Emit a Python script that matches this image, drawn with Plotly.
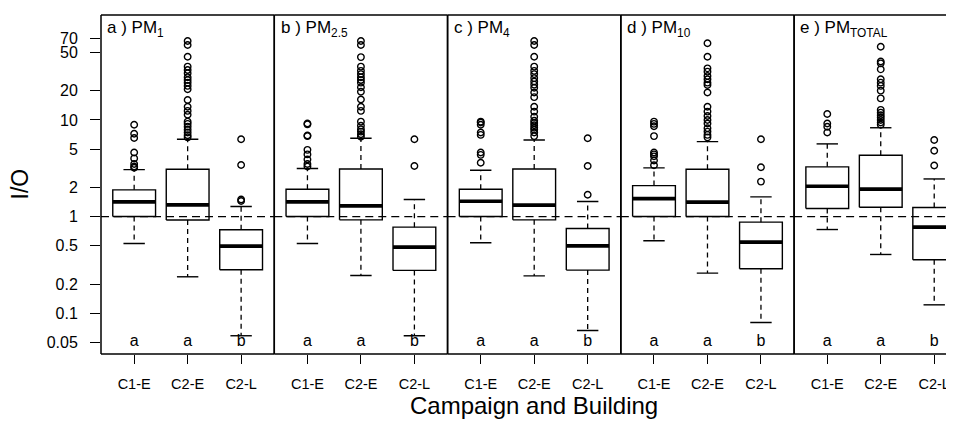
import plotly.graph_objects as go
from plotly.subplots import make_subplots

# ---------------- data ----------------
groups = ["C1-E", "C2-E", "C2-L"]
panel_titles = ["a ) PM<sub>1</sub>", "b ) PM<sub>2.5</sub>", "c ) PM<sub>4</sub>",
                "d ) PM<sub>10</sub>", "e ) PM<sub>TOTAL</sub>"]
letters = ["a", "a", "b"]

y_tick_vals = [0.05, 0.1, 0.2, 0.5, 1, 2, 5, 10, 20, 50, 70]
y_tick_text = ["0.05", "0.1", "0.2", "0.5", "1", "2", "5", "10", "20", "50", "70"]

# per panel: [C1-E, C2-E, C2-L]
lower_whisker = [
    [0.526, 0.238, 0.0584],
    [0.526, 0.245, 0.0584],
    [0.535, 0.243, 0.0662],
    [0.561, 0.260, 0.080],
    [0.734, 0.405, 0.122],
]
q1 = [
    [1.00, 0.92, 0.281],
    [1.00, 0.925, 0.277],
    [1.00, 0.925, 0.279],
    [1.00, 1.00, 0.288],
    [1.21, 1.25, 0.357],
]
median = [
    [1.42, 1.32, 0.494],
    [1.42, 1.29, 0.483],
    [1.44, 1.31, 0.498],
    [1.53, 1.41, 0.543],
    [2.06, 1.92, 0.777],
]
q3 = [
    [1.89, 3.09, 0.73],
    [1.92, 3.11, 0.777],
    [1.92, 3.11, 0.751],
    [2.09, 3.09, 0.875],
    [3.27, 4.31, 1.24],
]
upper_whisker = [
    [3.06, 6.3, 1.27],
    [3.14, 6.46, 1.50],
    [3.02, 6.2, 1.43],
    [3.19, 5.97, 1.6],
    [5.65, 8.3, 2.45],
]
outliers = [
    [[3.2, 3.3, 3.5, 4.0, 4.6, 6.5, 7.2, 8.9],
     [6.6, 6.95, 7.4, 7.9, 8.5, 9.1, 9.6, 11.3, 12.4, 13.7, 16.1, 20.8, 22.5, 24.3,
      25.9, 27.7, 30.4, 32.9, 35.6, 45.1, 59.7, 65.6],
     [1.45, 1.5, 3.42, 6.3]],
    [[3.3, 3.5, 3.9, 4.4, 4.9, 6.8, 6.9, 9.0, 9.2],
     [6.7, 7.1, 7.57, 8.0, 8.7, 9.6, 12.4, 13.7, 16.3, 19.6, 21.8, 24.3, 25.9, 27.7,
      29.8, 32.2, 35.6, 44.7, 59.7, 65.6],
     [3.34, 6.3]],
    [[3.6, 4.35, 4.6, 7.0, 7.4, 8.9, 9.4, 9.6],
     [6.8, 7.4, 7.9, 8.3, 8.8, 9.3, 9.8, 10.8, 12.2, 13.7, 17.2, 19.2, 21.5, 23.2,
      25.0, 27.1, 29.8, 32.2, 35.6, 45.1, 59.7, 65.6],
     [1.68, 3.34, 6.46]],
    [[3.4, 3.8, 4.2, 4.4, 4.6, 6.8, 8.6, 9.1, 9.6],
     [6.6, 7.0, 7.57, 8.2, 9.2, 10.0, 11.0, 12.2, 13.7, 19.2, 23.0, 24.3, 26.4, 28.5,
      31.6, 34.2, 45.1, 62.2],
     [2.3, 3.24, 6.3]],
    [[7.4, 8.5, 9.2, 11.5],
     [8.9, 9.4, 10.0, 10.6, 11.2, 11.9, 12.7, 16.7, 20.1, 22.5, 24.3, 26.4, 33.4,
      38.5, 40.2, 57.3],
     [3.37, 4.8, 6.2]],
]
reference_level = 1.0
letter_level = 0.05

# ---------------- style ----------------
FONT = "Liberation Sans, Arial, sans-serif"
BOXW = 0.4      # half box width (boxwex 0.8)
CAPW = 0.2      # half staple width
x_ranges = [[0.38, 3.62]] * 4 + [[0.38, 3.37]]
col_w = [173.3, 173.3, 173.3, 173.3, 159.9]

# page body has an 8px default margin: size the figure so it fills the window
PAGE_OFF = 8
L, T, B = 101 - PAGE_OFF, 15 - PAGE_OFF, 67
FIG_W, FIG_H = 954 - PAGE_OFF, 421 - PAGE_OFF
PLOT_W = FIG_W - L
PLOT_H = FIG_H - T - B

fig = make_subplots(rows=1, cols=5, shared_yaxes=True, horizontal_spacing=0,
                    column_widths=col_w)

for p in range(5):
    col = p + 1
    bx, by, mx, my, wx, wy, cx, cy, ox, oy = [], [], [], [], [], [], [], [], [], []
    for g in range(3):
        c = g + 1
        bx += [c - BOXW, c + BOXW, c + BOXW, c - BOXW, c - BOXW, None]
        by += [q1[p][g], q1[p][g], q3[p][g], q3[p][g], q1[p][g], None]
        mx += [c - BOXW, c + BOXW, None]
        my += [median[p][g], median[p][g], None]
        wx += [c, c, None, c, c, None]
        wy += [q3[p][g], upper_whisker[p][g], None, q1[p][g], lower_whisker[p][g], None]
        cx += [c - CAPW, c + CAPW, None, c - CAPW, c + CAPW, None]
        cy += [upper_whisker[p][g], upper_whisker[p][g], None,
               lower_whisker[p][g], lower_whisker[p][g], None]
        ox += [c] * len(outliers[p][g])
        oy += outliers[p][g]
    fig.add_trace(go.Scatter(x=x_ranges[p], y=[reference_level, reference_level],
                             mode="lines", line=dict(color="black", width=1.3, dash="8px,5px"),
                             showlegend=False, hoverinfo="skip"), row=1, col=col)
    fig.add_trace(go.Scatter(x=wx, y=wy, mode="lines",
                             line=dict(color="black", width=1.3, dash="5px,4px"),
                             showlegend=False, hoverinfo="skip"), row=1, col=col)
    fig.add_trace(go.Scatter(x=cx, y=cy, mode="lines",
                             line=dict(color="black", width=1.4),
                             showlegend=False, hoverinfo="skip"), row=1, col=col)
    fig.add_trace(go.Scatter(x=bx, y=by, mode="lines",
                             line=dict(color="black", width=1.4),
                             showlegend=False, hoverinfo="skip"), row=1, col=col)
    fig.add_trace(go.Scatter(x=mx, y=my, mode="lines",
                             line=dict(color="black", width=3.7),
                             showlegend=False, hoverinfo="skip"), row=1, col=col)
    fig.add_trace(go.Scatter(x=ox, y=oy, mode="markers",
                             marker=dict(symbol="circle-open", size=6.5, color="black",
                                         line=dict(width=1.4, color="black")),
                             showlegend=False, hoverinfo="skip"), row=1, col=col)
    fig.add_trace(go.Scatter(x=[1, 2, 3], y=[letter_level] * 3, mode="text",
                             text=letters, textposition="middle center",
                             textfont=dict(family=FONT, size=16, color="black"),
                             showlegend=False, hoverinfo="skip"), row=1, col=col)

    xname = "x" if p == 0 else f"x{col}"
    frame_lines = [((0, 0), (0, 1)), ((0, 1), (1, 1)), ((0, 0), (1, 0))]
    if p < 4:
        frame_lines.append(((1, 0), (1, 1)))
    for (x0, y0), (x1, y1) in frame_lines:
        fig.add_shape(type="line", xref=f"{xname} domain", yref="paper",
                      x0=x0, y0=y0, x1=x1, y1=y1,
                      line=dict(color="black", width=1.5), layer="above")
    fig.add_annotation(text=panel_titles[p], xref=f"{xname} domain", yref="paper",
                       x=0.025, y=0.997, xanchor="left", yanchor="top",
                       showarrow=False, font=dict(family=FONT, size=17, color="black"))

    fig.update_xaxes(range=x_ranges[p], tickvals=[1, 2, 3], ticktext=groups,
                     ticks="outside", ticklen=9, tickwidth=1.3, tickcolor="black",
                     ticklabelstandoff=8,
                     tickfont=dict(family=FONT, size=14.5, color="black"),
                     showgrid=False, zeroline=False, showline=False,
                     fixedrange=True, row=1, col=col)
    fig.update_yaxes(type="log", range=[-1.4225, 2.086], showgrid=False,
                     zeroline=False, showline=False, fixedrange=True, row=1, col=col)

fig.update_yaxes(tickvals=y_tick_vals, ticktext=y_tick_text, ticks="outside",
                 ticklen=10, tickwidth=1.3, tickcolor="black", ticklabelstandoff=9,
                 tickfont=dict(family=FONT, size=16, color="black"), row=1, col=1)

fig.add_annotation(text="Campaign and Building", xref="paper", yref="paper",
                   x=(534 - 101) / PLOT_W, y=-(406 - 354.3) / PLOT_H,
                   xanchor="center", yanchor="middle",
                   showarrow=False, font=dict(family=FONT, size=24, color="black"))
fig.add_annotation(text="I/O", xref="paper", yref="paper",
                   x=(19 - 101) / PLOT_W, y=0.5, xanchor="center", yanchor="middle",
                   textangle=-90, showarrow=False,
                   font=dict(family=FONT, size=23, color="black"))

fig.update_layout(width=FIG_W, height=FIG_H,
                  margin=dict(l=L, r=0, t=T, b=B, pad=0),
                  paper_bgcolor="white", plot_bgcolor="white",
                  hovermode=False, showlegend=False)

fig.write_html("out.html")
